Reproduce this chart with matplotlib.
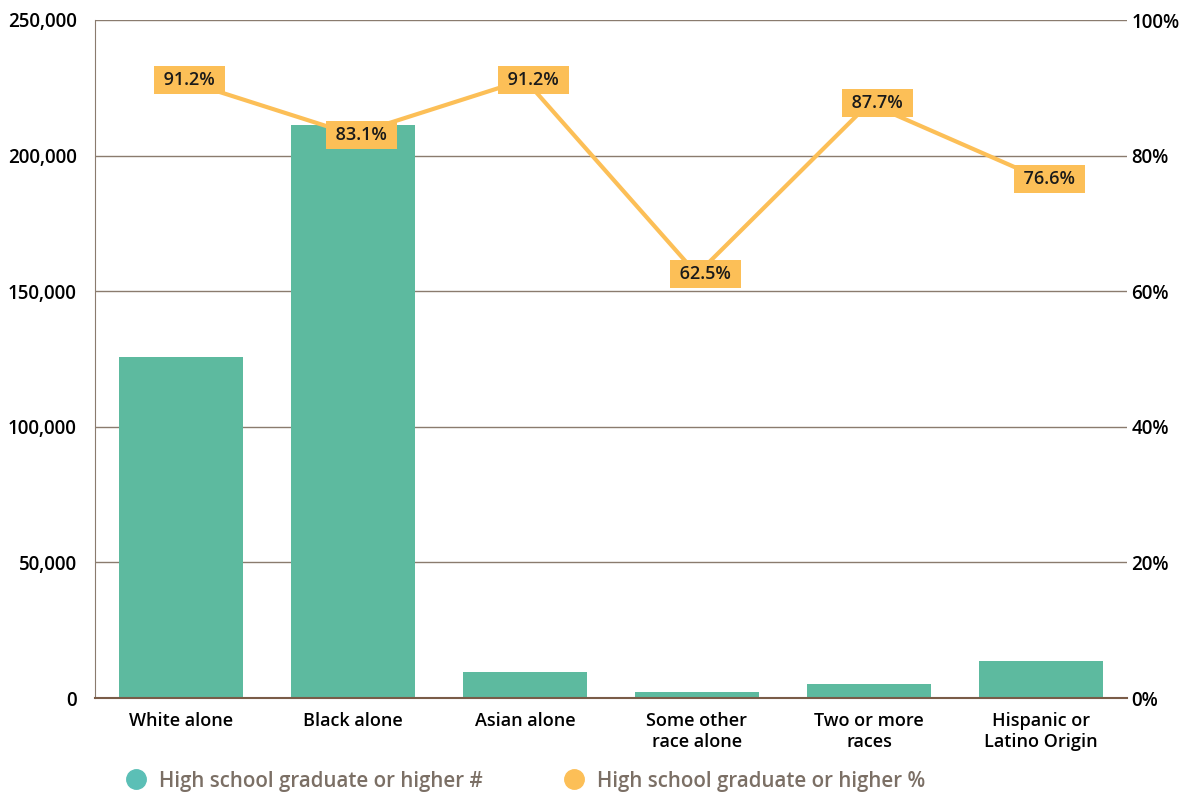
import matplotlib.pyplot as plt
from matplotlib.ticker import FuncFormatter
from matplotlib.lines import Line2D

categories = ['White alone', 'Black alone', 'Asian alone', 'Some other\nrace alone',
              'Two or more\nraces', 'Hispanic or\nLatino Origin']
grad_count = [125700, 211200, 9600, 2300, 5200, 13700]
grad_pct = [91.2, 83.1, 91.2, 62.5, 87.7, 76.6]

bar_color = '#5dba9f'
line_color = '#fcbf57'
axis_color = '#8a7b6e'
legend_text = '#7b6f65'

plt.rcParams['font.family'] = ['Open Sans', 'DejaVu Sans']

fig = plt.figure(figsize=(11.84, 7.93), dpi=100)
ax = fig.add_axes([95 / 1184, 1 - 698 / 793, 1032 / 1184, 678 / 793])

x = range(len(categories))
ax.bar(x, grad_count, width=0.72, color=bar_color, zorder=2)
ax.set_xlim(-0.5, len(categories) - 0.5)
ax.set_ylim(0, 250000)
ax.set_yticks(range(0, 250001, 50000))
ax.yaxis.set_major_formatter(FuncFormatter(lambda v, p: f'{int(v):,}'))
ax.grid(axis='y', color=axis_color, linewidth=1, zorder=0)
ax.set_xticks(list(x))
ax.set_xticklabels(categories, fontsize=13, fontweight=600, linespacing=1.2)
ax.tick_params(axis='x', length=0, pad=10)
ax.tick_params(axis='y', length=0, pad=13, labelsize=13.5)
for lbl in ax.get_yticklabels():
    lbl.set_fontweight(600)
for s in ['top', 'right']:
    ax.spines[s].set_visible(False)
ax.spines['left'].set_color(axis_color)
ax.spines['bottom'].set_color('#7a5c48')
ax.spines['bottom'].set_linewidth(1.5)

ax2 = ax.twinx()
ax2.set_ylim(0, 100)
ax2.set_yticks(range(0, 101, 20))
ax2.yaxis.set_major_formatter(FuncFormatter(lambda v, p: f'{int(v)}%'))
ax2.tick_params(axis='y', length=0, pad=3, labelsize=13.5)
for lbl in ax2.get_yticklabels():
    lbl.set_fontweight(600)
for s in ax2.spines.values():
    s.set_visible(False)
ax2.plot(list(x), grad_pct, color=line_color, linewidth=3, zorder=3)
for xi, v in zip(x, grad_pct):
    # spaces widen the box sideways without making it taller
    ax2.text(xi + 0.05, v, f' {v}% ', ha='center', va='center', fontsize=13,
             fontweight=600, color='#1a1a1a', zorder=4,
             bbox=dict(boxstyle='square,pad=0.28', fc=line_color, ec='none'))

handles = [Line2D([], [], marker='o', linestyle='none', markersize=14,
                  color='#5bbfb6'),
           Line2D([], [], marker='o', linestyle='none', markersize=14,
                  color=line_color)]
leg = fig.legend(handles, ['High school graduate or higher #', 'High school graduate or higher %'],
                 loc='center left', bbox_to_anchor=(105 / 1184, 1 - 781 / 793),
                 ncol=2, frameon=False, fontsize=14.8, handletextpad=0.55,
                 columnspacing=3.8, handlelength=1.2)
for t in leg.get_texts():
    t.set_color(legend_text)
    t.set_fontweight(600)

fig.savefig('out.png', dpi=100)
